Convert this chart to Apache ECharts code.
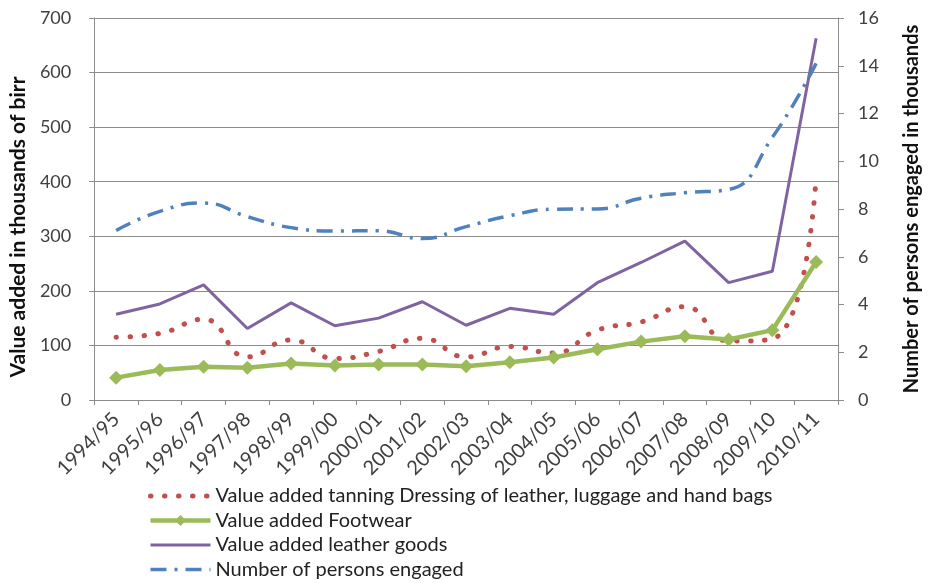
<!DOCTYPE html>
<html>
	<head>
		<meta charset="utf-8" />
		<title>Leather sector</title>
		<script src="https://cdn.jsdelivr.net/npm/echarts@6/dist/echarts.min.js" type="text/javascript" charset="utf-8"></script>
		<style>
			html, body { margin: 0; padding: 0; background: #fff; }
			#chart { width: 930px; height: 583px; }
		</style>
	</head>
	<body>
		<div id="chart"></div>
		<script type="text/javascript">
			// years
			var years = ['1994/95','1995/96','1996/97','1997/98','1998/99','1999/00','2000/01','2001/02','2002/03',
				'2003/04','2004/05','2005/06','2006/07','2007/08','2008/09','2009/10','2010/11'];
			// value added, thousands of birr
			var tanning = [115,122,148,79,110,76,89,113,79,98,86,128,143,171,108,112,409];
			var footwear = [41,55,61,59,67,63,65,65,62,69,78,93,107,117,111,128,253];
			var leatherGoods = [157,176,211,131,178,136,150,180,137,168,157,215,252,291,215,236,663];
			// persons engaged, thousands
			var persons = [7.1,7.9,8.25,7.68,7.22,7.08,7.09,6.76,7.26,7.72,7.99,8.0,8.45,8.68,8.82,11.0,14.1];

			var names = [
				'Value added tanning Dressing of leather, luggage and hand bags',
				'Value added Footwear',
				'Value added leather goods',
				'Number of persons engaged'
			];

			var font = 'Lato, "Open Sans", sans-serif';
			var txt = '#404040';
			var gray = '#8c8c8c';

			var redDots = { width: 5, type: [0.5, 13.5], cap: 'round', color: '#c0504d' };
			var blueDash = { width: 3.5, type: [16, 8, 3, 8], color: '#4f81bd' };

			var myChart = echarts.init(document.getElementById('chart'));
			myChart.setOption({
				animation: false,
				grid: { left: 94, right: 77, top: 18, bottom: 183 },
				legend: {
					orient: 'vertical',
					left: 148,
					top: 486,
					height: 97,
					padding: 0,
					itemWidth: 60,
					itemHeight: 14,
					itemGap: 4.5,
					textStyle: { fontFamily: font, fontSize: 20, color: '#222', lineHeight: 20 },
					data: [
						{ name: names[0], itemStyle: { opacity: 0 }, lineStyle: { width: 5, type: [0.5, 13.5], cap: 'round' } },
						{ name: names[1], lineStyle: { width: 4.5 } },
						{ name: names[2], itemStyle: { opacity: 0 }, lineStyle: { width: 3 } },
						{ name: names[3], itemStyle: { opacity: 0 }, lineStyle: { width: 3.5, type: [16, 8, 3, 8] } }
					]
				},
				xAxis: {
					type: 'category',
					data: years,
					boundaryGap: true,
					axisLine: { lineStyle: { color: gray } },
					axisTick: { show: true, length: 5, lineStyle: { color: gray } },
					axisLabel: { rotate: 45, margin: 16, fontFamily: font, fontSize: 20, color: txt, interval: 0 }
				},
				yAxis: [{
					type: 'value',
					min: 0, max: 700, interval: 100,
					name: 'Value added in thousands of birr',
					nameLocation: 'middle',
					nameRotate: 90,
					nameGap: 58,
					nameTextStyle: { fontFamily: font, fontSize: 21, fontWeight: 'bold', color: '#111', padding: [0, 36, 0, 0] },
					axisLine: { show: true, lineStyle: { color: gray } },
					axisTick: { show: true, length: 5, lineStyle: { color: gray } },
					splitLine: { lineStyle: { color: gray, width: 1 } },
					axisLabel: { margin: 23, fontFamily: font, fontSize: 18, color: txt }
				}, {
					type: 'value',
					min: 0, max: 16, interval: 2,
					position: 'right',
					name: 'Number of persons engaged in thousands',
					nameLocation: 'middle',
					nameRotate: 90,
					nameGap: 64,
					nameTextStyle: { fontFamily: font, fontSize: 20, fontWeight: 'bold', color: '#111' },
					axisLine: { show: true, lineStyle: { color: gray } },
					axisTick: { show: true, length: 6, lineStyle: { color: gray } },
					splitLine: { show: false },
					axisLabel: { margin: 20, fontFamily: font, fontSize: 18, color: txt }
				}],
				series: [{
					name: names[0],
					type: 'line',
					data: tanning,
					smooth: true,
					symbol: 'none',
					color: '#c0504d',
					lineStyle: redDots,
					z: 2
				}, {
					name: names[1],
					type: 'line',
					data: footwear,
					symbol: 'diamond',
					symbolSize: 14,
					color: '#9bbb59',
					itemStyle: { color: '#9bbb59' },
					lineStyle: { width: 4.5, color: '#9bbb59' },
					z: 3
				}, {
					name: names[2],
					type: 'line',
					data: leatherGoods,
					symbol: 'none',
					color: '#8064a2',
					lineStyle: { width: 3, color: '#8064a2' },
					z: 2
				}, {
					name: names[3],
					type: 'line',
					yAxisIndex: 1,
					data: persons,
					smooth: true,
					symbol: 'none',
					color: '#4f81bd',
					lineStyle: blueDash,
					z: 2
				}]
			});
		</script>
	</body>
</html>
